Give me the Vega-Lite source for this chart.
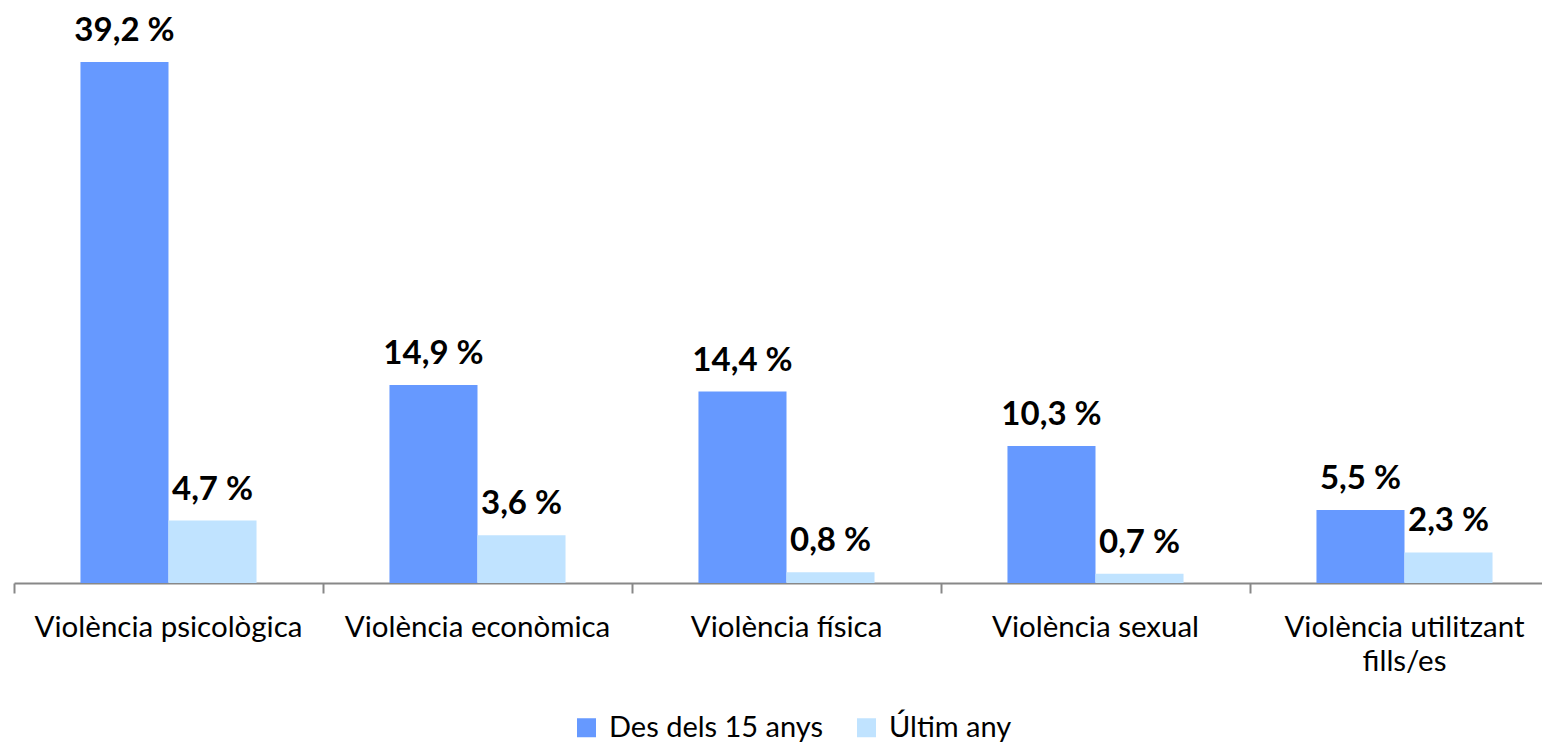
{
  "$schema": "https://vega.github.io/schema/vega-lite/v6.json",
  "width": 1528,
  "height": 583,
  "autosize": {"type": "none"},
  "padding": {"left": 14, "top": 0, "right": 0, "bottom": 159},
  "background": "white",
  "config": {
    "view": {"stroke": null},
    "font": "Lato"
  },
  "data": {
    "values": [
      {"cat": "Violència psicològica", "serie": "Des dels 15 anys", "value": 39.2, "label": "39,2 %"},
      {"cat": "Violència psicològica", "serie": "Últim any", "value": 4.7, "label": "4,7 %"},
      {"cat": "Violència econòmica", "serie": "Des dels 15 anys", "value": 14.9, "label": "14,9 %"},
      {"cat": "Violència econòmica", "serie": "Últim any", "value": 3.6, "label": "3,6 %"},
      {"cat": "Violència física", "serie": "Des dels 15 anys", "value": 14.4, "label": "14,4 %"},
      {"cat": "Violència física", "serie": "Últim any", "value": 0.8, "label": "0,8 %"},
      {"cat": "Violència sexual", "serie": "Des dels 15 anys", "value": 10.3, "label": "10,3 %"},
      {"cat": "Violència sexual", "serie": "Últim any", "value": 0.7, "label": "0,7 %"},
      {"cat": "Violència utilitzant|fills/es", "serie": "Des dels 15 anys", "value": 5.5, "label": "5,5 %"},
      {"cat": "Violència utilitzant|fills/es", "serie": "Últim any", "value": 2.3, "label": "2,3 %"}
    ]
  },
  "encoding": {
    "x": {
      "field": "cat",
      "type": "nominal",
      "sort": null,
      "title": null,
      "scale": {"range": [0, 1545], "paddingInner": 0, "paddingOuter": 0},
      "axis": {
        "labelAngle": 0,
        "labelExpr": "split(datum.label, '|')",
        "labelFontSize": 29.5,
        "labelColor": "#000000",
        "labelFont": "Lato",
        "labelPadding": 20,
        "labelLineHeight": 34,
        "labelLimit": 0,
        "labelBound": false,
        "labelOverlap": false,
        "bandPosition": 0,
        "domainColor": "#888888",
        "domainWidth": 2,
        "tickColor": "#888888",
        "tickWidth": 2,
        "tickSize": 10,
        "grid": false
      }
    },
    "xOffset": {
      "field": "serie",
      "type": "nominal",
      "sort": ["Des dels 15 anys", "Últim any"],
      "scale": {"paddingInner": 0, "paddingOuter": 0.755}
    },
    "y": {
      "field": "value",
      "type": "quantitative",
      "scale": {"domain": [0, 43.86], "nice": false},
      "axis": null
    }
  },
  "layer": [
    {
      "mark": {"type": "bar"},
      "encoding": {
        "color": {
          "field": "serie",
          "type": "nominal",
          "sort": ["Des dels 15 anys", "Últim any"],
          "scale": {"domain": ["Des dels 15 anys", "Últim any"], "range": ["#6699FF", "#C0E3FF"]},
          "legend": {
            "title": null,
            "orient": "none",
            "legendX": 558,
            "legendY": 713,
            "direction": "horizontal",
            "symbolType": "square",
            "symbolSize": 361,
            "symbolStrokeWidth": 0,
            "labelFontSize": 29,
            "labelFont": "Lato",
            "labelColor": "#000000",
            "labelLimit": 0,
            "columnPadding": 28,
            "labelOffset": 8
          }
        }
      }
    },
    {
      "mark": {"type": "text", "fontSize": 33, "fontWeight": "bold", "baseline": "alphabetic", "dy": -21, "color": "#000000", "font": "Lato"},
      "encoding": {
        "text": {"field": "label"}
      }
    }
  ]
}
